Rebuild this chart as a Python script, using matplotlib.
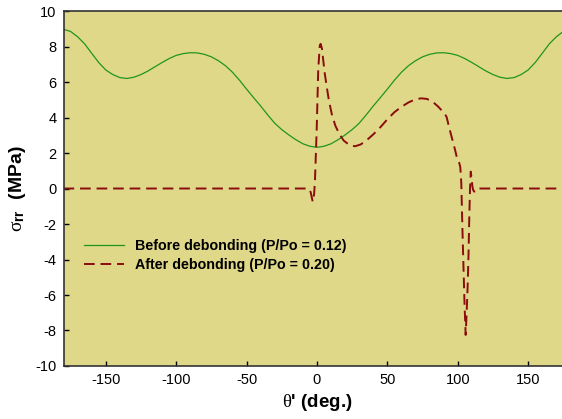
import numpy as np
import matplotlib
matplotlib.use("Agg")
import matplotlib.pyplot as plt

plt.rcParams['font.family'] = ['Liberation Sans', 'DejaVu Sans']
plt.rcParams['mathtext.fontset'] = 'custom'
plt.rcParams['mathtext.rm'] = 'Liberation Serif'
plt.rcParams['mathtext.it'] = 'Liberation Serif:italic'
plt.rcParams['mathtext.bf'] = 'Liberation Sans:bold'
plt.rcParams['axes.unicode_minus'] = False

# before debonding (symmetric about 0), read for theta >= 0
theta_half = [0, 5, 10, 15, 20, 25, 30, 35, 40, 45, 50, 55, 60, 65, 70, 75,
              80, 85, 90, 95, 100, 105, 110, 115, 120, 125, 130, 135, 140,
              145, 150, 155, 160, 165, 170, 175, 180]
before_half = [2.32, 2.38, 2.52, 2.75, 3.02, 3.32, 3.68, 4.15, 4.65, 5.12,
               5.6, 6.1, 6.55, 6.92, 7.2, 7.42, 7.56, 7.64, 7.65, 7.6, 7.5,
               7.32, 7.1, 6.86, 6.62, 6.42, 6.27, 6.2, 6.25, 6.42, 6.68, 7.1,
               7.62, 8.15, 8.55, 8.85, 8.97]

# after debonding
theta_after = [-180, -6, -4.5, -3, -2, -1.4, -0.2, 0.9, 2, 2.6, 3.5, 4.5,
               5.5, 7, 8.5, 10.5, 13, 16, 19, 23, 27, 31, 35, 40, 45, 50, 55,
               60, 65, 70, 74, 78, 82, 86, 90, 92, 94, 96, 98, 99.5, 101,
               101.8, 102.5, 103.2, 104, 104.8, 105.6, 106.3, 107, 107.6,
               108.2, 108.7, 109.2, 109.8, 110.4, 111, 111.8, 112.5, 114, 180]
after = [0, 0, -0.2, -0.75, -0.3, 0.5, 3.3, 6.7, 8.05, 8.15, 7.9, 7.2,
         6.5, 5.7, 4.95, 4.2, 3.55, 3.05, 2.7, 2.45, 2.38, 2.48, 2.7, 3.05,
         3.45, 3.9, 4.3, 4.6, 4.85, 5.03, 5.08, 5.05, 4.9, 4.62, 4.28, 4.05,
         3.4, 2.8, 2.2, 1.7, 1.45, 1.2, 0.3, -2.0, -4.3, -6.5, -8.25, -7.0,
         -5.5, -3.8, -1.5, 0.0, 0.95, 0.6, 0.1, -0.1, -0.18, -0.1, 0, 0]

theta_before = [-t for t in theta_half[::-1]] + theta_half[1:]
before = before_half[::-1] + before_half[1:]

fig = plt.figure(figsize=(5.62, 4.19), dpi=100)
ax = fig.add_axes([0.113, 0.1265, 0.902, 0.8472])
ax.set_facecolor('#dfd888')

ax.plot(theta_before, before, color='#1f951f', lw=0.9,
        label='Before debonding (P/Po = 0.12)')
ax.plot(theta_after, after, color='#8b0c0c', lw=1.4, dashes=(5.5, 3),
        label='After debonding (P/Po = 0.20)')

ax.set_xlim(-180, 180)
ax.set_ylim(-10, 10)
ax.set_xticks([-150, -100, -50, 0, 50, 100, 150])
ax.set_yticks(range(-10, 11, 2))
ax.tick_params(direction='in', length=3.5, width=1, labelsize=10.5,
               top=False, right=False, pad=5)
for s in ax.spines.values():
    s.set_color('#333333')
    s.set_linewidth(1.2)

ax.set_xlabel(r"$\mathrm{\theta}$' (deg.)", fontsize=13.5, fontweight='bold',
              labelpad=4)
ax.set_ylabel(r"$\mathrm{\sigma}_{\mathbf{rr}}$  (MPa)", fontsize=14,
              fontweight='bold', labelpad=5)

ax.legend(loc='upper left', bbox_to_anchor=(0.04, 0.358), frameon=False,
          prop={'weight': 'bold', 'size': 10.3}, handlelength=2.8,
          handletextpad=0.75, labelspacing=0.35, borderpad=0,
          borderaxespad=0)

fig.savefig('out.png', dpi=100, facecolor='white')
